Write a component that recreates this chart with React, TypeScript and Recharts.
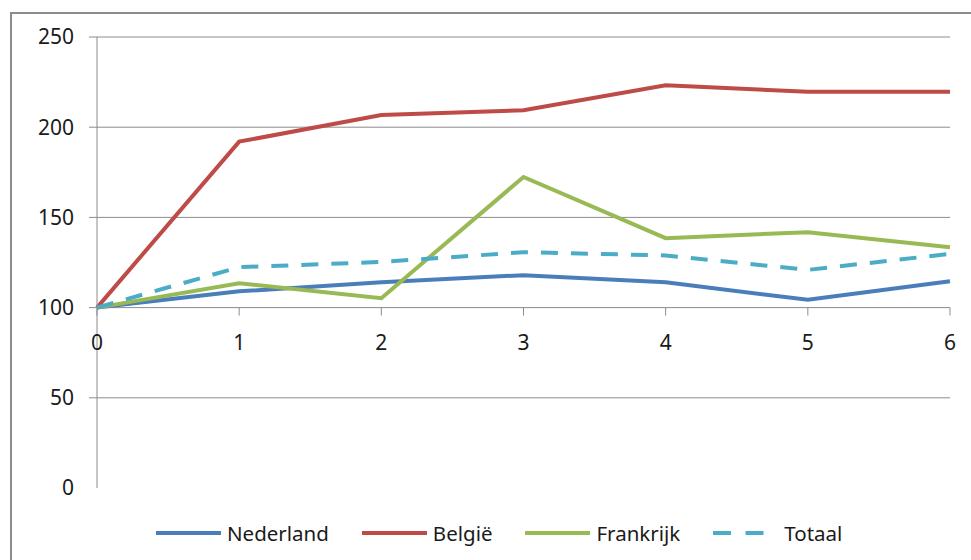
import { LineChart, Line, XAxis, YAxis, CartesianGrid, Legend } from "recharts";

// index per period, base = 100
const periods = [0, 1, 2, 3, 4, 5, 6];
const nederland = [100, 109, 114, 118, 114, 104.3, 114.6];
const belgie = [100, 192, 206.7, 209.4, 223.3, 219.6, 219.6];
const frankrijk = [100, 113.5, 105.2, 172.4, 138.5, 141.8, 133.5];
const totaal = [100, 122.4, 125.3, 130.7, 128.9, 120.9, 129.8];
const yTicks = [0, 50, 100, 150, 200, 250];

const series = [
  { key: "Nederland", color: "#4a7ebb", dash: undefined },
  { key: "België", color: "#be4b48", dash: undefined },
  { key: "Frankrijk", color: "#98b954", dash: undefined },
  { key: "Totaal", color: "#4bacc6", dash: "17 13" },
];

const data = periods.map((p, i) => ({
  period: p,
  Nederland: nederland[i],
  België: belgie[i],
  Frankrijk: frankrijk[i],
  Totaal: totaal[i],
}));

const W = 971;
const H = 560;
const MARGIN = { top: 37, right: 21, left: 0, bottom: 0 };
const LEGEND_H = 71;
const X_AXIS_H = 1;
const Y_MAX = 250;
const CROSS_AT = 100; // x axis crosses the value axis here
const PLOT_H = H - MARGIN.top - MARGIN.bottom - LEGEND_H - X_AXIS_H;
const FONT = "'Noto Sans', sans-serif";
const GRID = "#8c8c8c";

function XTick({ x, y, payload }: any) {
  // move the axis up from the plot bottom to the crossing value
  const y0 = y - (PLOT_H * CROSS_AT) / Y_MAX;
  return (
    <g>
      <line x1={x} x2={x} y1={y0} y2={y0 + 8} stroke={GRID} />
      <text x={x} y={y0 + 27} dy="0.71em" textAnchor="middle" fill="#1a1a1a" fontSize={21} fontFamily={FONT}>
        {payload.value}
      </text>
    </g>
  );
}

function YTick({ x, y, payload }: any) {
  return (
    <g>
      {payload.value !== 0 && <line x1={x - 8} x2={x} y1={y} y2={y} stroke={GRID} />}
      <text x={x - 23} y={y} dy="0.355em" textAnchor="end" fill="#1a1a1a" fontSize={21} fontFamily={FONT}>
        {payload.value}
      </text>
    </g>
  );
}

function LegendBox() {
  return (
    <div style={{ height: LEGEND_H, paddingTop: 32, boxSizing: "border-box", display: "flex", paddingLeft: 156 }}>
      {series.map((s) => (
        <div key={s.key} style={{ display: "flex", alignItems: "center", marginRight: 33, height: 24 }}>
          <svg width={65} height={8} style={{ marginRight: 6 }}>
            <line
              x1={0}
              x2={65}
              y1={4}
              y2={4}
              stroke={s.color}
              strokeWidth={4}
              strokeDasharray={s.dash ? "18 14.5" : undefined}
            />
          </svg>
          <span style={{ fontFamily: FONT, fontSize: 20.5, color: "#1a1a1a" }}>{s.key}</span>
        </div>
      ))}
    </div>
  );
}

export default function App() {
  return (
    <div style={{ position: "absolute", left: 0, top: 0, width: W, height: H, overflow: "hidden", background: "#fff" }}>
      <div
        style={{
          position: "absolute",
          left: 10,
          top: 12,
          width: W + 20,
          height: H + 20,
          border: "2px solid #8c8c8c",
          boxSizing: "border-box",
        }}
      />
      <LineChart width={W} height={H} data={data} margin={MARGIN}>
        <CartesianGrid vertical={false} stroke={GRID} horizontalValues={[50, 100, 150, 200, 250]} />
        <XAxis
          dataKey="period"
          type="number"
          domain={[0, 6]}
          ticks={periods}
          axisLine={false}
          tickLine={false}
          tickSize={0}
          tickMargin={0}
          height={X_AXIS_H}
          tick={<XTick />}
          interval={0}
        />
        <YAxis
          domain={[0, Y_MAX]}
          ticks={yTicks}
          width={97}
          axisLine={{ stroke: GRID }}
          tickLine={false}
          tickSize={0}
          tickMargin={0}
          tick={<YTick />}
          interval={0}
        />
        <Legend verticalAlign="bottom" height={LEGEND_H} content={() => <LegendBox />} />
        {series.map((s) => (
          <Line
            key={s.key}
            type="linear"
            dataKey={s.key}
            stroke={s.color}
            strokeWidth={4}
            strokeDasharray={s.dash}
            dot={false}
            activeDot={false}
            isAnimationActive={false}
          />
        ))}
      </LineChart>
    </div>
  );
}
